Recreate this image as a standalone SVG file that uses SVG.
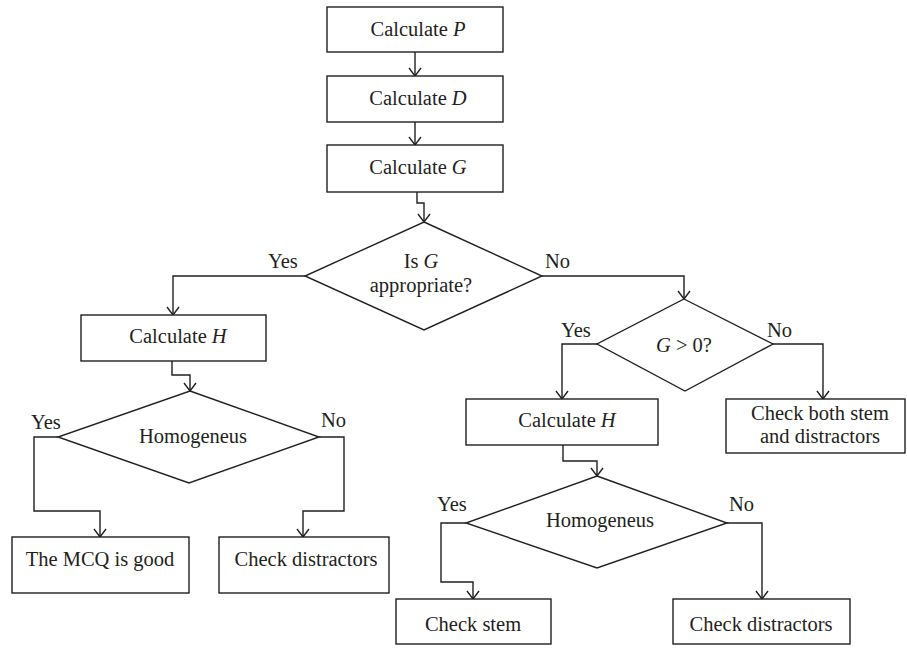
<svg xmlns="http://www.w3.org/2000/svg" width="907" height="648" viewBox="0 0 907 648">
<defs>
<style>
.box{fill:#fff;stroke:#231f20;stroke-width:1.4}
.dia{fill:#fff;stroke:#231f20;stroke-width:1.4}
.line{fill:none;stroke:#231f20;stroke-width:1.4;marker-end:url(#arr)}
.t{font-family:"Liberation Serif","Times New Roman",serif;font-size:20.5px;fill:#231f20;text-anchor:middle}
.lbl{font-family:"Liberation Serif","Times New Roman",serif;font-size:20.5px;fill:#231f20;text-anchor:start}
.i{font-style:italic}
</style>
<marker id="arr" viewBox="0 0 10 14" refX="9" refY="7" markerWidth="10" markerHeight="14" markerUnits="userSpaceOnUse" orient="auto">
<path d="M1,1 L9,7 L1,13" fill="none" stroke="#231f20" stroke-width="1.4"/>
</marker>
</defs>
<rect width="907" height="648" fill="#fff"/>
<g id="connectors">
<path class="line" d="M415,52 V76"/>
<path class="line" d="M415,122 V145"/>
<path class="line" d="M417,192 V203 H424 V222"/>
<path class="line" d="M305,276 H173 V315"/>
<path class="line" d="M542,276 H684 V299"/>
<path class="line" d="M172,361 V375 H190 V391"/>
<path class="line" d="M58,437 H34 V511 H100 V537"/>
<path class="line" d="M319,437 H344 V511 H303 V537"/>
<path class="line" d="M597,344 H562 V399"/>
<path class="line" d="M773,344 H823 V399"/>
<path class="line" d="M563,445 V461 H597 V476"/>
<path class="line" d="M466,523 H441 V582 H473 V599"/>
<path class="line" d="M727,523 H762 V599"/>
</g>
<g id="calcP"><rect class="box" x="327" y="7" width="176" height="45"/><text class="t" x="418" y="36">Calculate <tspan class="i">P</tspan></text></g>
<g id="calcD"><rect class="box" x="327" y="76" width="176" height="46"/><text class="t" x="418" y="105">Calculate <tspan class="i">D</tspan></text></g>
<g id="calcG"><rect class="box" x="327" y="145" width="176" height="47"/><text class="t" x="418" y="174">Calculate <tspan class="i">G</tspan></text></g>
<g id="isG"><polygon class="dia" points="424,222 542,276 424,330 305,276"/><text class="t" x="421" y="268">Is <tspan class="i">G</tspan></text><text class="t" x="421" y="292">appropriate?</text>
<text class="lbl" x="268" y="268">Yes</text><text class="lbl" x="545" y="268">No</text></g>
<g id="calcH1"><rect class="box" x="81" y="315" width="185" height="46"/><text class="t" x="178" y="343">Calculate <tspan class="i">H</tspan></text></g>
<g id="homo1"><polygon class="dia" points="190,391 319,437 189,483 58,437"/><text class="t" x="193" y="443">Homogeneus</text>
<text class="lbl" x="31" y="429">Yes</text><text class="lbl" x="321" y="427">No</text></g>
<g id="good"><rect class="box" x="12" y="537" width="177" height="56"/><text class="t" x="100" y="566">The MCQ is good</text></g>
<g id="dist1"><rect class="box" x="219" y="537" width="170" height="56"/><text class="t" x="306" y="566">Check distractors</text></g>
<g id="gpos"><polygon class="dia" points="684,299 773,344 685,391 597,344"/><text class="t" x="684" y="352"><tspan class="i">G</tspan> &gt; 0?</text>
<text class="lbl" x="561" y="337">Yes</text><text class="lbl" x="767" y="337">No</text></g>
<g id="calcH2"><rect class="box" x="466" y="399" width="192" height="46"/><text class="t" x="567" y="427">Calculate <tspan class="i">H</tspan></text></g>
<g id="both"><rect class="box" x="726" y="399" width="179" height="54"/><text class="t" x="820" y="420">Check both stem</text><text class="t" x="820" y="443">and distractors</text></g>
<g id="homo2"><polygon class="dia" points="597,476 727,523 597,568 466,523"/><text class="t" x="600" y="527">Homogeneus</text>
<text class="lbl" x="437" y="511">Yes</text><text class="lbl" x="729" y="511">No</text></g>
<g id="stem"><rect class="box" x="396" y="599" width="155" height="45"/><text class="t" x="473" y="631">Check stem</text></g>
<g id="dist2"><rect class="box" x="673" y="599" width="177" height="45"/><text class="t" x="761" y="631">Check distractors</text></g>
</svg>
